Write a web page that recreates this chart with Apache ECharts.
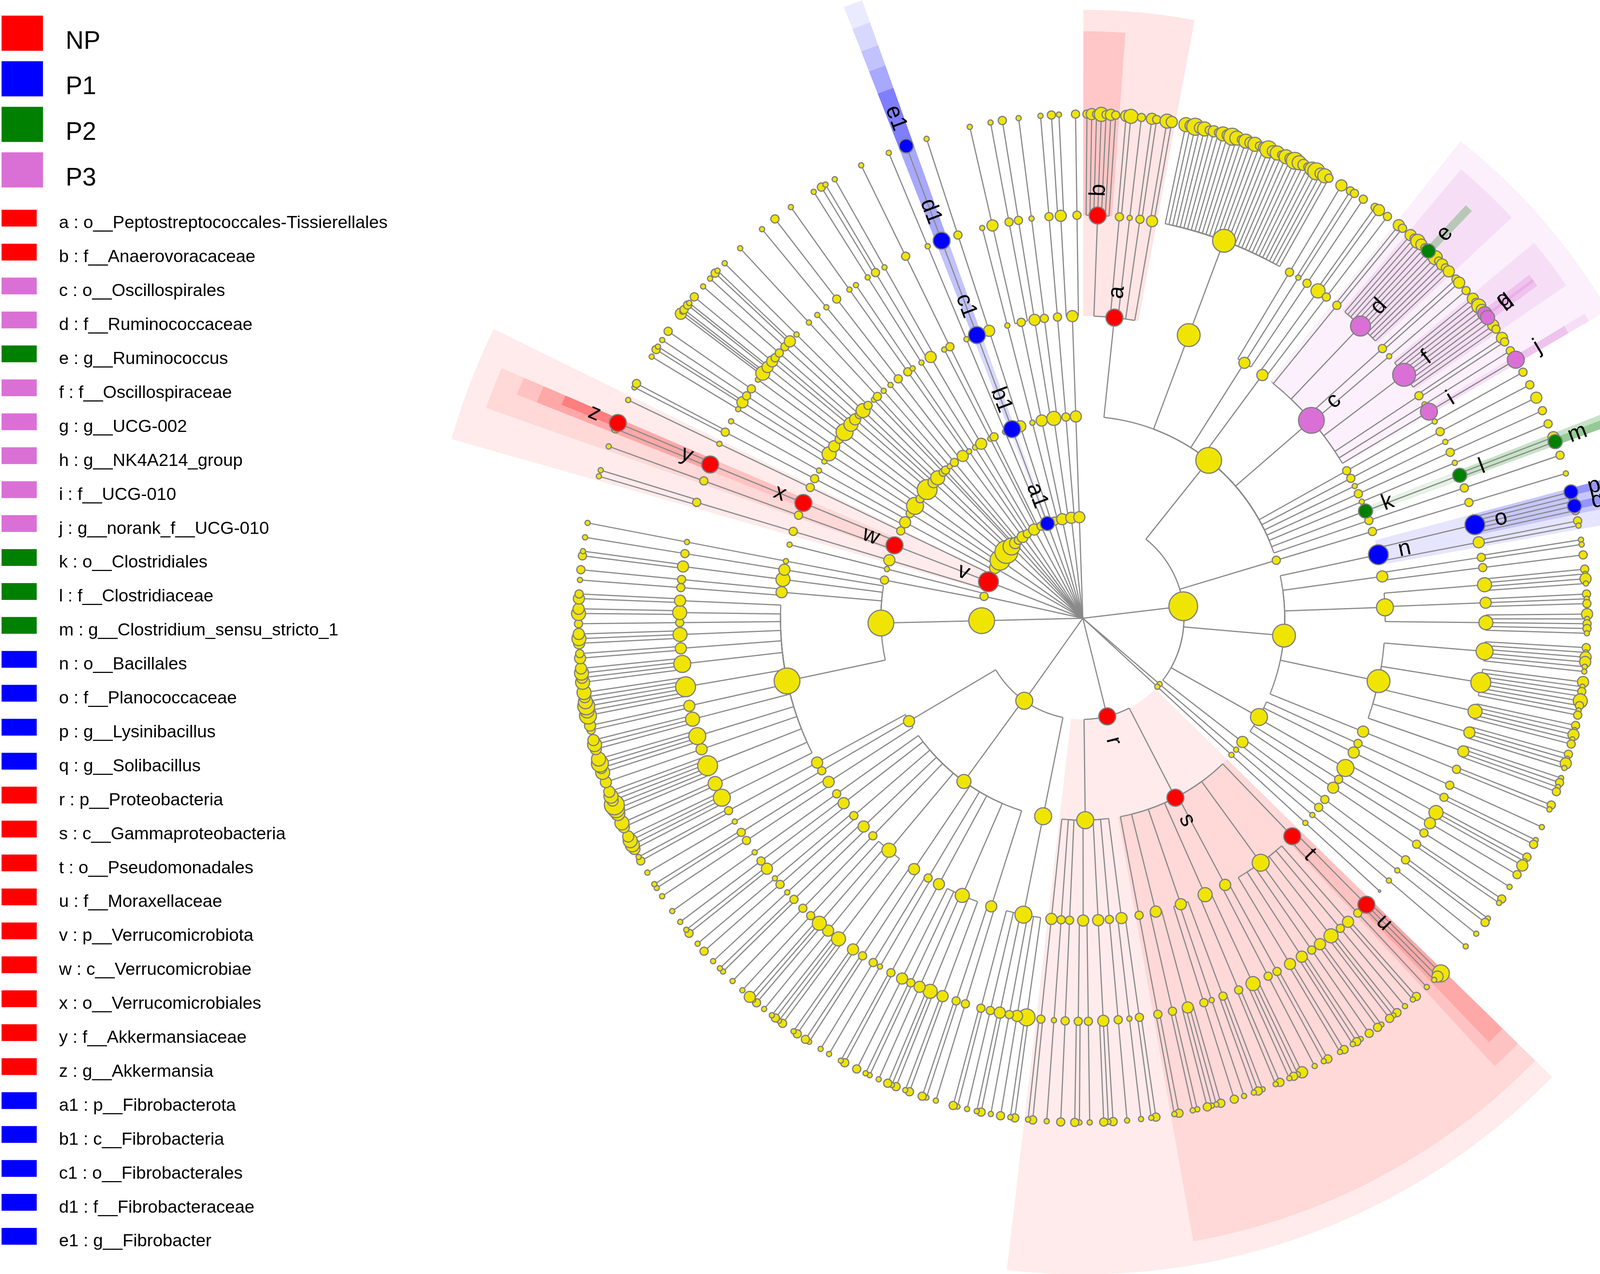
<!DOCTYPE html>
<html>
<head>
<meta charset="utf-8">
<title>Cladogram</title>
<script src="https://cdn.jsdelivr.net/npm/echarts/dist/echarts.min.js"></script>
<style>
  html, body { margin: 0; padding: 0; width: 100%; height: 100%; background: #fff; }
  #main { width: 100%; height: 100%; }
</style>
</head>
<body>
<div id="main"></div>
<script type="text/javascript">
// groups shown in the legend
var groupNames = ['NP', 'P1', 'P2', 'P3'];
var groupColors = ['#ff0000', '#0000ff', '#008000', '#da70d6'];

// biomarker list (key, taxon, group)
var markerKeys = ['a', 'b', 'c', 'd', 'e', 'f', 'g', 'h', 'i', 'j', 'k', 'l', 'm', 'n', 'o', 'p', 'q',
  'r', 's', 't', 'u', 'v', 'w', 'x', 'y', 'z', 'a1', 'b1', 'c1', 'd1', 'e1'];
var markerTaxa = ['o__Peptostreptococcales-Tissierellales', 'f__Anaerovoracaceae', 'o__Oscillospirales',
  'f__Ruminococcaceae', 'g__Ruminococcus', 'f__Oscillospiraceae', 'g__UCG-002', 'g__NK4A214_group',
  'f__UCG-010', 'g__norank_f__UCG-010', 'o__Clostridiales', 'f__Clostridiaceae',
  'g__Clostridium_sensu_stricto_1', 'o__Bacillales', 'f__Planococcaceae', 'g__Lysinibacillus',
  'g__Solibacillus', 'p__Proteobacteria', 'c__Gammaproteobacteria', 'o__Pseudomonadales',
  'f__Moraxellaceae', 'p__Verrucomicrobiota', 'c__Verrucomicrobiae', 'o__Verrucomicrobiales',
  'f__Akkermansiaceae', 'g__Akkermansia', 'p__Fibrobacterota', 'c__Fibrobacteria',
  'o__Fibrobacterales', 'f__Fibrobacteraceae', 'g__Fibrobacter'];
var markerGroup = ['NP', 'NP', 'P3', 'P3', 'P2', 'P3', 'P3', 'P3', 'P3', 'P3', 'P2', 'P2', 'P2',
  'P1', 'P1', 'P1', 'P1', 'NP', 'NP', 'NP', 'NP', 'NP', 'NP', 'NP', 'NP', 'NP', 'P1', 'P1', 'P1', 'P1', 'P1'];

// taxonomy tree: [size+label, children...]; a digit string = genus leaves (one digit = node size)
var phylumSpans = [
  [0.2, 129], [130, 131.2], [132, 133.2], [134.5, 186.5], [187.5, 242], [242.5, 279.5], [280.5, 284.5],
  [286, 296], [297, 301.5], [302, 306.5], [307, 312.5], [313, 316.5], [317, 319], [319.5, 321.5],
  [322, 325], [325.5, 328], [328.5, 333], [333.5, 337.8], [338.8, 340.2], [341.5, 346], [346.5, 350],
  [350.5, 355.5], [356, 359.6]
];

var firmicutes = ['9',
  ['8',
    ['5a', ['5b', '2324232'], ['2', '34'], ['1', '2'], ['2', '32'], ['3', '43']],
    ['7', ['7', '435342324354243423534243543245342']],
    ['3', ['2', '3'], ['1', '22'], ['2', '2']],
    ['3', ['4', '23'], ['2', '2']],
    ['8c', ['2', '32'], ['6d', '32432', ['4e'], '342323'], ['2', '23'], ['1', '2'],
      ['7f', '3243', ['4g'], ['4h'], '232'], ['2', '32'], ['1', '2'], ['5i', ['5j']]],
    ['2', ['1', '2']],
    ['2', ['2', '2']],
    ['1', ['1', '3']],
    ['2', ['2', '2']],
    ['1', ['1', '2']],
    ['4k', ['4l', '3', ['4m']]],
    ['2', ['2', '2']]
  ],
  ['2', ['2', ['2', '1']]],
  ['7',
    ['6n', ['6o', ['4p'], '22', ['4q'], '2'], ['3', '21']],
    ['3', ['2', '11'], ['2', '2']],
    ['5', ['4', '2131'], ['3', '212'], ['4', '31221']],
    ['7', ['5', '213311'], ['6', '31214212'], ['4', '21312'], ['3', '2131'], ['3', '1212']],
    ['3', ['2', '21']]
  ],
  ['5', ['2', ['2', '1']], ['3', ['2', '12']], ['5', ['4', '213'], ['3', '2']], ['2', ['2', '1']], ['3', ['2', '21']]],
  ['3', ['2', ['2', '12']], ['2', ['1', '1']]]
];
var tinyA = ['1', ['1', ['1', ['1', '1']]]];
var tinyB = ['1', ['1', ['1', ['0']]]];
var proteobacteria = ['5r',
  ['5s',
    ['5t', ['5u', '531'], ['2', '1']],
    ['5', ['3', '21'], ['2', '1'], ['4', '212'], ['3', '12'], ['2', '2'], ['3', '121'], ['3', '21']],
    ['3', ['2', '21'], ['2', '1']],
    ['4', ['4', '3121'], ['2', '21']],
    ['3', ['2', '121'], ['1', '1'], ['2', '2']],
    ['3', ['3', '2112'], ['2', '11']],
    ['2', ['2', '21']]
  ],
  ['5',
    ['3', ['2', '21'], ['1', '1']],
    ['2', ['2', '1']],
    ['3', ['3', '212']],
    ['3', ['2', '1'], ['2', '12']],
    ['2', ['2', '2']],
    ['2', ['1', '1']],
    ['3', ['2', '21']]
  ]
];
var phylum215 = ['5',
  ['5', ['5', ['5', '21'], ['3', '2'], ['2', '1'], ['3', '21'], ['2', '1'], ['2', '12']]],
  ['4',
    ['3', ['2', '1'], ['2', '12']],
    ['4', ['3', '21'], ['4', '212'], ['3', '1'], ['2', '11'], ['3', '2']],
    ['3', ['2', '21']],
    ['2', ['1', '1'], ['2', '1']],
    ['3', ['2', '12'], ['3', '21']],
    ['4', ['4', '2121'], ['3', '1'], ['4', '213'], ['2', '1']],
    ['2', ['2', '1']],
    ['3', ['2', '11'], ['1', '1']],
    ['2', ['2', '2'], ['1', '1']],
    ['3', ['3', '21'], ['2', '1']],
    ['2', ['1', '1']]
  ],
  ['3', ['3', ['2', '1'], ['2', '11']], ['2', ['1', '1']], ['3', ['2', '21']]]
];
var phylum268 = ['8',
  ['8',
    ['8', ['5', '3443'], ['4', '34'], ['6', '456343'], ['3', '3'], ['5', '4354'], ['4', '343'], ['3', '23'],
      ['6', '545434'], ['5', '4343'], ['3', '32'], ['4', '343'], ['2', '2'], ['4', '43'], ['3', '32']],
    ['3', ['2', '1'], ['2', '2']],
    ['4', ['3', '21']],
    ['3', ['2', '1']]
  ]
];
var phylum281 = ['2', ['2', ['1', ['1', '1']]], ['1', ['1']]];
var verrucomicrobiota = ['6v',
  ['3', ['2', ['2', '11']]],
  ['5w', ['2', ['2', '1']], ['5x', ['5y', '2', ['5z']]]],
  ['2', ['2', ['1', '1']]]
];
var phylum301 = ['3', ['3', ['2', ['2', '12']], ['1', ['1']]], ['2', ['1', ['1', '1']]]];
var phylum302 = ['6', ['5', ['4', ['3', '21'], ['2', '1']], ['3', ['2', '2']]], ['2', ['2', ['1']]]];
var phylum311 = ['7', ['6', ['5', ['4', '312'], ['3', '21']], ['4', ['3', '2'], ['2']], ['3', ['2', '1']]],
  ['3', ['2', ['2', '1']]]];
var phylum314 = ['5', ['4', ['4', ['3', '21']], ['2', ['1', '1']]], ['2', ['1']]];
var phylum318 = ['3', ['2', ['2', ['1', '1']]], ['1', ['1', ['1']]]];
var phylum320 = ['2', ['2', ['1', ['1', '1']]]];
var phylum324 = ['3', ['3', ['2', ['2', '2']], ['2', ['1', '1']]]];
var phylum326 = ['2', ['1', ['1', ['1']]], ['1', ['1', ['1', '1']]]];
var phylum330 = ['3', ['3', ['3', ['2', '21'], ['1', '1']]], ['1', ['1']]];
var phylum335 = ['2', ['2', ['2', ['2', '1']]], ['1', ['1', ['1', '1']]]];
var fibrobacterota = ['4a1', ['5b1', ['5c1', ['5d1', ['4e1']]]]];
var phylum344 = ['2', ['3', ['3', ['2', '1']]], ['1', ['1', ['1']]]];
var phylum348 = ['3', ['3', ['2', ['3', '1'], ['2', '1']]]];
var phylum353 = ['3', ['4', ['3', ['2', '2']], ['2', ['1', '1']]], ['2', ['2', ['2', '1']]]];
var phylum357 = ['3', ['3', ['3', ['3', '21'], ['2', '2']]]];

var phyla = [firmicutes, tinyA, tinyB, proteobacteria, phylum215, phylum268, phylum281, verrucomicrobiota,
  phylum301, phylum302, phylum311, phylum314, phylum318, phylum320, phylum324, phylum326, phylum330,
  phylum335, fibrobacterota, phylum344, phylum348, phylum353, phylum357];

// ---- layout (LEfSe style rings) ----
var RING = [0, 259, 517, 774, 1032, 1291];
var SHADE_OUT = [0, 1680, 1620, 1558, 1503, 1442];
var SHADE_ALPHA = [0, 0.08, 0.08, 0.1, 0.13, 0.25];
var GAP = [0, 0, 3, 2, 1.2, 0];
var EDGE = '#8a8a8a';
var YELLOW = '#f0e500';

function sizeOf(d) { return 6 + 7.5 * d; }

function parseNode(item, level) {
  var tag = item[0];
  var node = { size: +tag.charAt(0), label: tag.slice(1), level: level, children: [] };
  for (var i = 1; i < item.length; i++) {
    var c = item[i];
    if (typeof c === 'string') {
      for (var k = 0; k < c.length; k++) {
        node.children.push({ size: +c.charAt(k), label: '', level: level + 1, children: [] });
      }
    } else {
      node.children.push(parseNode(c, level + 1));
    }
  }
  return node;
}
function units(n) {
  if (!n.children.length) return 1;
  var u = 0;
  n.children.forEach(function (c) { u += units(c); });
  return u + GAP[n.level + 1] * (n.children.length - 1);
}
function place(n, a0, a1) {
  n.a0 = a0; n.a1 = a1;
  if (!n.children.length) { n.angle = (a0 + a1) / 2; return; }
  var per = (a1 - a0) / units(n), cur = a0;
  n.children.forEach(function (c) {
    var w = units(c) * per;
    place(c, cur, cur + w);
    cur += w + GAP[c.level] * per;
  });
  n.angle = (n.children[0].angle + n.children[n.children.length - 1].angle) / 2;
}

function groupColor(label) {
  var i = markerKeys.indexOf(label);
  return groupColors[groupNames.indexOf(markerGroup[i])];
}
function rgba(hex, a) {
  var v = parseInt(hex.slice(1), 16);
  return 'rgba(' + (v >> 16) + ',' + ((v >> 8) & 255) + ',' + (v & 255) + ',' + a + ')';
}

var nodeData = [], markerData = [], edgeData = [], shadeData = [], labelData = [], labelText = [];
function walk(n, parent) {
  var r = RING[n.level];
  edgeData.push([r, n.angle, parent ? RING[parent.level] : 0, parent ? parent.angle : n.angle]);
  if (n.label) {
    var col = groupColor(n.label);
    markerData.push({ value: [r, n.angle, sizeOf(n.size)], itemStyle: { color: col } });
    shadeData.push([r, n.angle, n.a0 - 0.15, n.a1 + 0.15, SHADE_OUT[n.level], n.level, markerKeys.indexOf(n.label)]);
    labelData.push([r, n.angle, sizeOf(n.size) / 2 + 28 + 15 * n.label.length]);
    labelText.push(n.label);
  } else {
    nodeData.push([r, n.angle, sizeOf(n.size)]);
  }
  n.children.forEach(function (c) { walk(c, n); });
}
phyla.forEach(function (p, i) {
  var root = parseNode(p, 1);
  place(root, phylumSpans[i][0], phylumSpans[i][1]);
  walk(root, null);
});
// wider (higher level) sectors first so narrow ones sit on top
shadeData.sort(function (a, b) { return a[5] - b[5]; });

function rad(deg) { return (deg - 90) * Math.PI / 180; }
function polarBase(api) {
  var c = api.coord([0, 0]);
  var t = api.coord([1000, 0]);
  return { cx: c[0], cy: c[1], k: Math.sqrt((t[0] - c[0]) * (t[0] - c[0]) + (t[1] - c[1]) * (t[1] - c[1])) / 1000 };
}

// ---- legend (drawn as graphic elements) ----
var graphics = [];
groupNames.forEach(function (g, i) {
  var top = 40 + i * 116.7;
  graphics.push({ type: 'rect', shape: { x: 4, y: top, width: 106, height: 90 }, style: { fill: groupColors[i] } });
  graphics.push({ type: 'text', x: 168, y: top + 67, style: { text: g, fill: '#000', font: '64px "Liberation Sans", Arial, sans-serif', align: 'left', verticalAlign: 'middle', textAlign: 'left', textVerticalAlign: 'middle' } });
});
markerKeys.forEach(function (m, i) {
  var top = 537 + i * 86.9;
  var col = groupColors[groupNames.indexOf(markerGroup[i])];
  graphics.push({ type: 'rect', shape: { x: 4, y: top, width: 90, height: 43 }, style: { fill: col } });
  graphics.push({ type: 'text', x: 151, y: top + 35, style: { text: m + ' : ' + markerTaxa[i], fill: '#000', font: '45px "Liberation Sans", Arial, sans-serif', align: 'left', verticalAlign: 'middle', textAlign: 'left', textVerticalAlign: 'middle' } });
});

var myChart = echarts.init(document.getElementById('main'));

var option = {
  backgroundColor: '#ffffff',
  animation: false,
  polar: { center: [2772, 1583], radius: 1700 },
  radiusAxis: { type: 'value', min: 0, max: 1700, show: false },
  angleAxis: { type: 'value', min: 0, max: 360, startAngle: 90, clockwise: true, show: false },
  graphic: graphics,
  series: [
    {
      name: 'shade',
      type: 'custom',
      coordinateSystem: 'polar',
      z: 1,
      silent: true,
      data: shadeData,
      renderItem: function (params, api) {
        var b = polarBase(api);
        var lvl = api.value(5);
        var col = groupColors[groupNames.indexOf(markerGroup[api.value(6)])];
        return {
          type: 'sector',
          shape: { cx: b.cx, cy: b.cy, r0: api.value(0) * b.k, r: api.value(4) * b.k,
            startAngle: rad(api.value(2)), endAngle: rad(api.value(3)), clockwise: true },
          style: { fill: rgba(col, SHADE_ALPHA[lvl]) }
        };
      }
    },
    {
      name: 'edges',
      type: 'custom',
      coordinateSystem: 'polar',
      z: 2,
      silent: true,
      data: edgeData,
      renderItem: function (params, api) {
        var b = polarBase(api);
        var rc = api.value(0), ac = api.value(1), rp = api.value(2), ap = api.value(3);
        var p1 = api.coord([rp, ac]), p2 = api.coord([rc, ac]);
        var kids = [{ type: 'line', shape: { x1: p1[0], y1: p1[1], x2: p2[0], y2: p2[1] },
          style: { stroke: EDGE, lineWidth: 3 } }];
        if (rp > 0 && Math.abs(ac - ap) > 1e-6) {
          kids.push({ type: 'arc', shape: { cx: b.cx, cy: b.cy, r: rp * b.k,
            startAngle: rad(Math.min(ac, ap)), endAngle: rad(Math.max(ac, ap)), clockwise: true },
            style: { stroke: EDGE, lineWidth: 3, fill: 'none' } });
        }
        return { type: 'group', children: kids };
      }
    },
    {
      name: 'taxa',
      type: 'scatter',
      coordinateSystem: 'polar',
      z: 3,
      silent: true,
      symbolSize: function (v) { return v[2]; },
      itemStyle: { color: YELLOW, borderColor: '#7f7f7f', borderWidth: 3, opacity: 1 },
      data: nodeData
    },
    {
      name: 'biomarkers',
      type: 'scatter',
      coordinateSystem: 'polar',
      z: 4,
      silent: true,
      symbolSize: function (v) { return v[2]; },
      itemStyle: { borderColor: '#7f7f7f', borderWidth: 3, opacity: 1 },
      data: markerData
    },
    {
      name: 'labels',
      type: 'custom',
      coordinateSystem: 'polar',
      z: 5,
      silent: true,
      data: labelData,
      renderItem: function (params, api) {
        var r = api.value(0), a = api.value(1), off = api.value(2);
        var p = api.coord([r + off, a]);
        var rot = a < 180 ? 90 - a : 270 - a;
        return {
          type: 'text', x: p[0], y: p[1], rotation: rot * Math.PI / 180,
          style: { text: labelText[params.dataIndex], fill: '#000',
            font: '58px "Liberation Sans", Arial, sans-serif',
            align: 'center', verticalAlign: 'middle', textAlign: 'center', textVerticalAlign: 'middle' }
        };
      }
    }
  ]
};

myChart.setOption(option);
</script>
</body>
</html>
